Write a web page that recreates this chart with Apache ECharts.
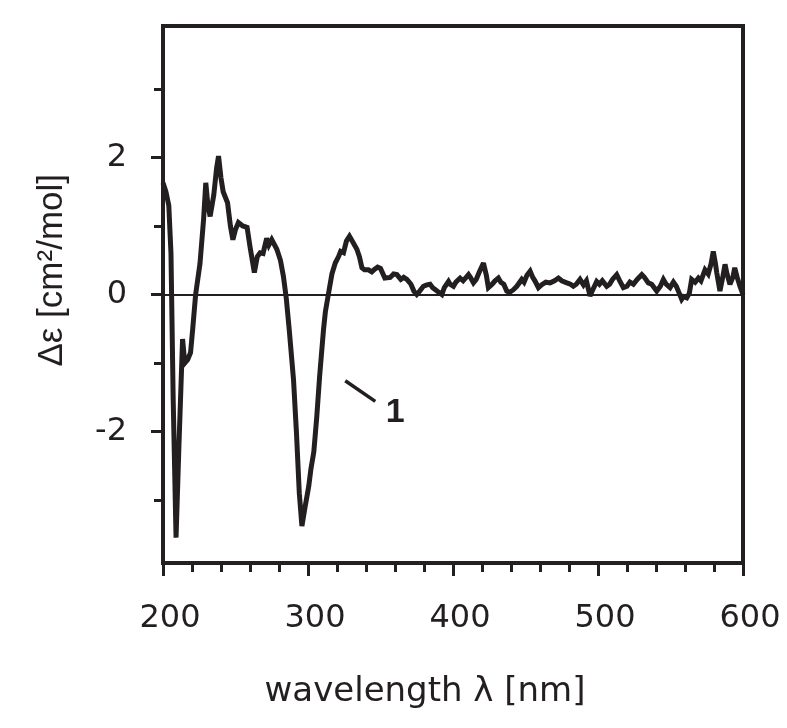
<!DOCTYPE html>
<html>
<head>
<meta charset="utf-8">
<script src="https://cdn.jsdelivr.net/npm/echarts@6/dist/echarts.min.js"></script>
<style>
  html, body { margin: 0; padding: 0; background: #fff; }
  #chart { width: 787px; height: 728px; }
</style>
</head>
<body>
<div id="chart"></div>
<script>
// CD spectrum, sample 1
const wavelengths = [
  200, 202, 204, 205.5, 207, 209, 211, 213.5, 215, 217, 219, 220.5, 222.5, 225.5, 228, 229.5,
  231, 232.5, 235, 237, 238.3, 240, 241.5, 244.5, 246.5, 248.2, 250, 252, 255, 258, 260, 263,
  265, 267, 269, 271.5, 273, 275, 278.5, 281, 283, 285, 287, 290, 292, 294, 295.8, 298,
  300.5, 302, 304, 306, 308, 310.7, 312, 314.2, 316.5, 318.8, 321, 322.5, 324.5, 326.5, 328.6, 330.5,
  333.7, 335.5, 337.2, 339, 341.7, 344, 346, 348, 350, 353, 356.7, 359, 361.3, 364, 366, 368.2,
  371, 373, 375, 377, 379.6, 382, 384.2, 386, 389, 392.3, 394, 396.9, 398, 400.3, 402, 404.9,
  407, 410.7, 412, 414.1, 416, 418, 421, 423, 424.4, 427, 429, 431.3, 433, 435, 437.1, 439,
  441.7, 444, 447.4, 449, 451, 453.2, 455, 456.5, 458.9, 461, 464, 467, 470, 472.7, 475, 478.5,
  481, 483, 485, 487.6, 490, 492, 494.5, 496, 499.1, 501, 503, 506, 508, 510, 512.9, 515,
  517.5, 520, 522, 524.4, 527, 530.2, 532, 534.7, 537, 540.5, 543, 545.1, 547, 549.7, 552, 554,
  556, 557.7, 559, 561.2, 563, 564.6, 567, 569.2, 571, 573.8, 576, 578, 579.5, 581, 581.9, 584.1,
  586, 587.6, 589, 591, 593, 594.3, 596, 597.9, 600
];
const deltaEps = [
  1.63, 1.5, 1.3, 0.6, -1.5, -3.55, -2.2, -0.65, -1.0, -0.95, -0.85, -0.5, 0.0, 0.45, 1.1, 1.63,
  1.3, 1.14, 1.45, 1.85, 2.02, 1.7, 1.5, 1.34, 1.0, 0.8, 0.95, 1.05, 1.0, 0.98, 0.7, 0.32,
  0.55, 0.61, 0.6, 0.82, 0.72, 0.8, 0.66, 0.5, 0.27, -0.05, -0.5, -1.24, -2.0, -2.9, -3.38, -3.1,
  -2.8, -2.55, -2.3, -1.8, -1.2, -0.51, -0.25, 0.02, 0.3, 0.46, 0.55, 0.63, 0.61, 0.78, 0.85, 0.78,
  0.66, 0.55, 0.39, 0.36, 0.36, 0.33, 0.37, 0.4, 0.38, 0.24, 0.25, 0.3, 0.29, 0.22, 0.25, 0.22,
  0.15, 0.05, 0.0, 0.05, 0.12, 0.14, 0.15, 0.1, 0.05, 0.0, 0.1, 0.19, 0.15, 0.12, 0.18, 0.24,
  0.2, 0.29, 0.25, 0.17, 0.22, 0.32, 0.46, 0.28, 0.1, 0.15, 0.2, 0.24, 0.18, 0.15, 0.05, 0.03,
  0.07, 0.12, 0.22, 0.18, 0.28, 0.34, 0.25, 0.2, 0.1, 0.14, 0.18, 0.17, 0.2, 0.24, 0.2, 0.17,
  0.15, 0.12, 0.15, 0.22, 0.14, 0.2, -0.02, 0.05, 0.19, 0.15, 0.2, 0.12, 0.15, 0.22, 0.29, 0.2,
  0.1, 0.12, 0.18, 0.15, 0.22, 0.29, 0.25, 0.17, 0.15, 0.05, 0.12, 0.22, 0.15, 0.1, 0.18, 0.12,
  0.02, -0.07, -0.03, -0.05, 0.02, 0.22, 0.18, 0.24, 0.2, 0.36, 0.3, 0.45, 0.63, 0.45, 0.32, 0.05,
  0.25, 0.44, 0.3, 0.15, 0.25, 0.39, 0.25, 0.12, 0.0
];
const yMajorTicks = [-2, 0, 2];
const yMinorTicks = [-3, -1, 1, 3];
// annotation "1": leader line end points and label anchor (data units)
const leaderLine = [[325.7, -1.26], [346.4, -1.56]];
const curveLabel = { text: '1', at: [360.1, -1.72] };

const ink = '#231f20';
const tickFont = 'DejaVu Sans, Verdana, sans-serif';
const titleFont = 'Liberation Sans, Arial, Helvetica, sans-serif';

const chart = echarts.init(document.getElementById('chart'));

const option = {
  animation: false,
  backgroundColor: '#fff',
  grid: {
    left: 163, right: 44, top: 26, bottom: 165,
    show: true, borderColor: ink, borderWidth: 4, backgroundColor: 'transparent'
  },
  xAxis: {
    type: 'value',
    min: 200, max: 600, interval: 100,
    name: 'wavelength \u03bb [nm]',
    nameLocation: 'middle',
    nameGap: 112,
    nameTextStyle: { color: ink, fontSize: 34, fontFamily: tickFont, padding: [0, 56, 0, 0] },
    axisLine: { show: true, onZero: false, lineStyle: { color: ink, width: 4 } },
    axisTick: { show: true, length: 13, lineStyle: { color: ink, width: 3 } },
    minorTick: { show: true, splitNumber: 5, length: 9, lineStyle: { color: ink, width: 3 } },
    axisLabel: { color: ink, fontSize: 32, fontFamily: tickFont, margin: 40, padding: [0, 0, 0, 14] },
    splitLine: { show: false },
    minorSplitLine: { show: false }
  },
  yAxis: [
    {
      type: 'value',
      min: -3.92, max: 3.92,
      axisLine: { show: true, onZero: false, lineStyle: { color: ink, width: 4 } },
      axisTick: { show: true, customValues: yMajorTicks, length: 12, lineStyle: { color: ink, width: 3 } },
      axisLabel: { customValues: yMajorTicks, color: ink, fontSize: 32, fontFamily: tickFont, margin: 36 },
      splitLine: { show: false }
    },
    {
      type: 'value',
      min: -3.92, max: 3.92,
      position: 'left',
      axisLine: { show: false, onZero: false },
      axisTick: { show: true, customValues: yMinorTicks, length: 9, lineStyle: { color: ink, width: 3 } },
      axisLabel: { show: false },
      splitLine: { show: false }
    }
  ],
  graphic: [
    {
      type: 'text',
      left: 35,
      top: 174,
      rotation: Math.PI / 2,
      style: {
        text: '\u0394\u03b5 [cm\u00b2/mol]',
        fill: ink,
        font: '35px ' + titleFont
      }
    }
  ],
  series: [
    {
      type: 'line',
      yAxisIndex: 0,
      data: wavelengths.map((w, i) => [w, deltaEps[i]]),
      showSymbol: false,
      symbol: 'none',
      lineStyle: { color: ink, width: 5, join: 'miter', miterLimit: 3 },
      z: 3,
      markLine: {
        silent: true,
        symbol: 'none',
        animation: false,
        label: { show: false },
        data: [
          { yAxis: 0, lineStyle: { color: ink, width: 2, type: 'solid' } },
          [
            { coord: leaderLine[0], lineStyle: { color: ink, width: 3.5, type: 'solid' } },
            { coord: leaderLine[1] }
          ]
        ]
      },
      markPoint: {
        silent: true,
        symbol: 'rect',
        symbolSize: 1,
        itemStyle: { color: 'transparent' },
        label: {
          show: true, position: 'inside', color: ink,
          fontSize: 34, fontWeight: 'bold', fontFamily: titleFont,
          formatter: () => curveLabel.text
        },
        data: [{ coord: curveLabel.at }]
      }
    }
  ]
};

chart.setOption(option);
window.addEventListener('resize', () => chart.resize());
</script>
</body>
</html>
